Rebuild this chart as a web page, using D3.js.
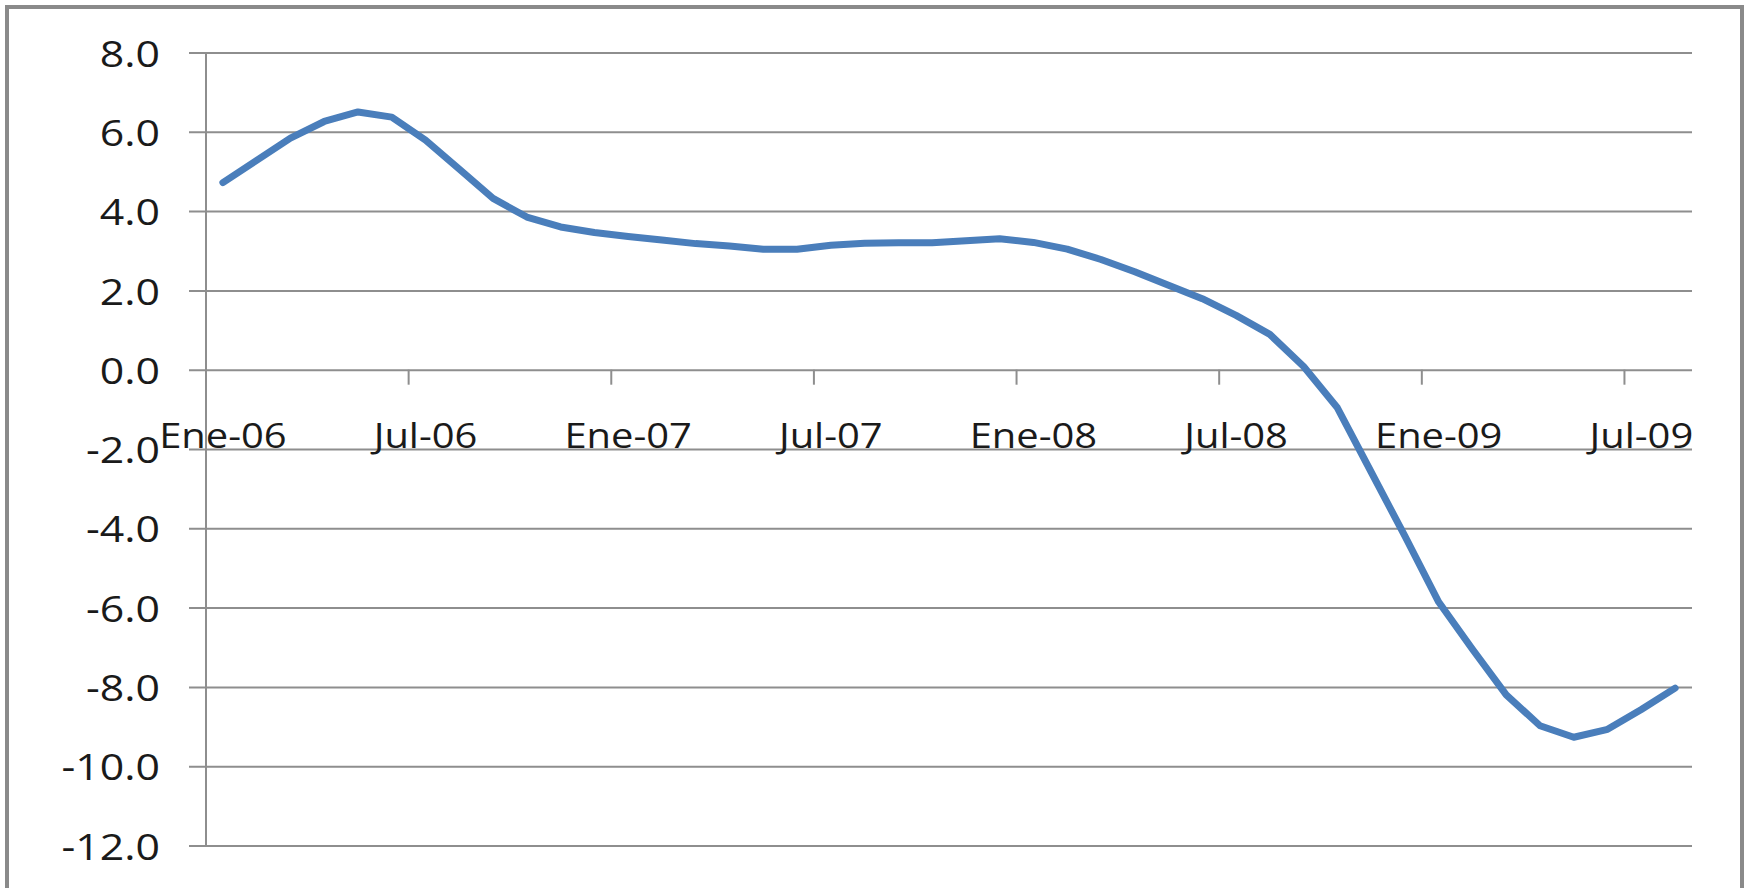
<!DOCTYPE html>
<html>
<head>
<meta charset="utf-8">
<script src="https://cdn.jsdelivr.net/npm/d3@7"></script>
<style>
  html, body { margin: 0; padding: 0; background: #ffffff; }
  svg { display: block; }
  text { font-family: "Open Sans", "Liberation Sans", sans-serif; fill: #1a1a1a; }
</style>
</head>
<body>
<svg id="chart" width="1746" height="888"></svg>
<script>
// Monthly categories, Jan 2006 – Aug 2009
const categories = [
  "Ene-06","Feb-06","Mar-06","Abr-06","May-06","Jun-06","Jul-06","Ago-06","Sep-06","Oct-06","Nov-06","Dic-06",
  "Ene-07","Feb-07","Mar-07","Abr-07","May-07","Jun-07","Jul-07","Ago-07","Sep-07","Oct-07","Nov-07","Dic-07",
  "Ene-08","Feb-08","Mar-08","Abr-08","May-08","Jun-08","Jul-08","Ago-08","Sep-08","Oct-08","Nov-08","Dic-08",
  "Ene-09","Feb-09","Mar-09","Abr-09","May-09","Jun-09","Jul-09","Ago-09"
];

// Annual variation, %
const values = [
  4.72, 5.28, 5.84, 6.26, 6.50, 6.37, 5.79, 5.06, 4.32, 3.85, 3.60, 3.46,
  3.36, 3.27, 3.18, 3.12, 3.04, 3.04, 3.14, 3.19, 3.20, 3.20, 3.25, 3.30,
  3.21, 3.04, 2.78, 2.47, 2.13, 1.79, 1.37, 0.89, 0.08, -0.96, -2.58, -4.20,
  -5.86, -7.05, -8.20, -8.98, -9.27, -9.07, -8.57, -8.03
];

// Axis ticks
const yTicks = [8, 6, 4, 2, 0, -2, -4, -6, -8, -10, -12];
const xLabels = ["Ene-06","Jul-06","Ene-07","Jul-07","Ene-08","Jul-08","Ene-09","Jul-09"];
const xTickEvery = 6;

const svg = d3.select("#chart");
const plot = { left: 206, right: 1692, top: 52.5, bottom: 845.5 };

// Chart-area frame
svg.append("rect")
  .attr("x", 7).attr("y", 7)
  .attr("width", 1735).attr("height", 900)
  .attr("fill", "#ffffff")
  .attr("stroke", "#8a8a8a")
  .attr("stroke-width", 4);

const x = d3.scaleBand().domain(categories).range([plot.left, plot.right]).padding(0);
const y = d3.scaleLinear().domain([-12, 8]).range([plot.bottom, plot.top]);

const gridColor = "#8e8e8e";

// Value axis: gridlines with outside ticks, and labels
const yAxis = svg.append("g")
  .attr("transform", `translate(${plot.left},0)`)
  .call(d3.axisLeft(y)
    .tickValues(yTicks)
    .tickSize(-(plot.right - plot.left))
    .tickFormat(d => d.toFixed(1)));
yAxis.select(".domain").remove();
yAxis.selectAll(".tick line")
  .attr("x1", -17)
  .attr("x2", plot.right - plot.left)
  .attr("stroke", gridColor)
  .attr("stroke-width", 2);
yAxis.selectAll(".tick text")
  .attr("x", null)
  .attr("dy", null)
  .attr("text-anchor", "end")
  .attr("dominant-baseline", "central")
  .attr("transform", "translate(-46,0) scale(1.19,1)")
  .style("font-size", "36px");

// Vertical value-axis line
svg.append("line")
  .attr("x1", plot.left).attr("x2", plot.left)
  .attr("y1", y(8)).attr("y2", y(-12))
  .attr("stroke", gridColor)
  .attr("stroke-width", 2);

// Category axis crossing at zero: tick marks on category boundaries
const boundaryCats = categories.filter((c, i) => i % xTickEvery === 0);
svg.append("g")
  .selectAll("line")
  .data(boundaryCats)
  .join("line")
  .attr("x1", d => x(d)).attr("x2", d => x(d))
  .attr("y1", y(0)).attr("y2", y(0) + 15)
  .attr("stroke", gridColor)
  .attr("stroke-width", 2);

// Category labels
svg.append("g")
  .selectAll("text")
  .data(xLabels)
  .join("text")
  .attr("text-anchor", "middle")
  .attr("transform", d => `translate(${x(d) + x.bandwidth() / 2},${y(0) + 78}) scale(1.14,1)`)
  .style("font-size", "35px")
  .text(d => d);

// Series line
const line = d3.line()
  .x((d, i) => x(categories[i]) + x.bandwidth() / 2)
  .y(d => y(d));

svg.append("path")
  .datum(values)
  .attr("d", line)
  .attr("fill", "none")
  .attr("stroke", "#4a7ebb")
  .attr("stroke-width", 7)
  .attr("stroke-linejoin", "round")
  .attr("stroke-linecap", "round");
</script>
</body>
</html>
